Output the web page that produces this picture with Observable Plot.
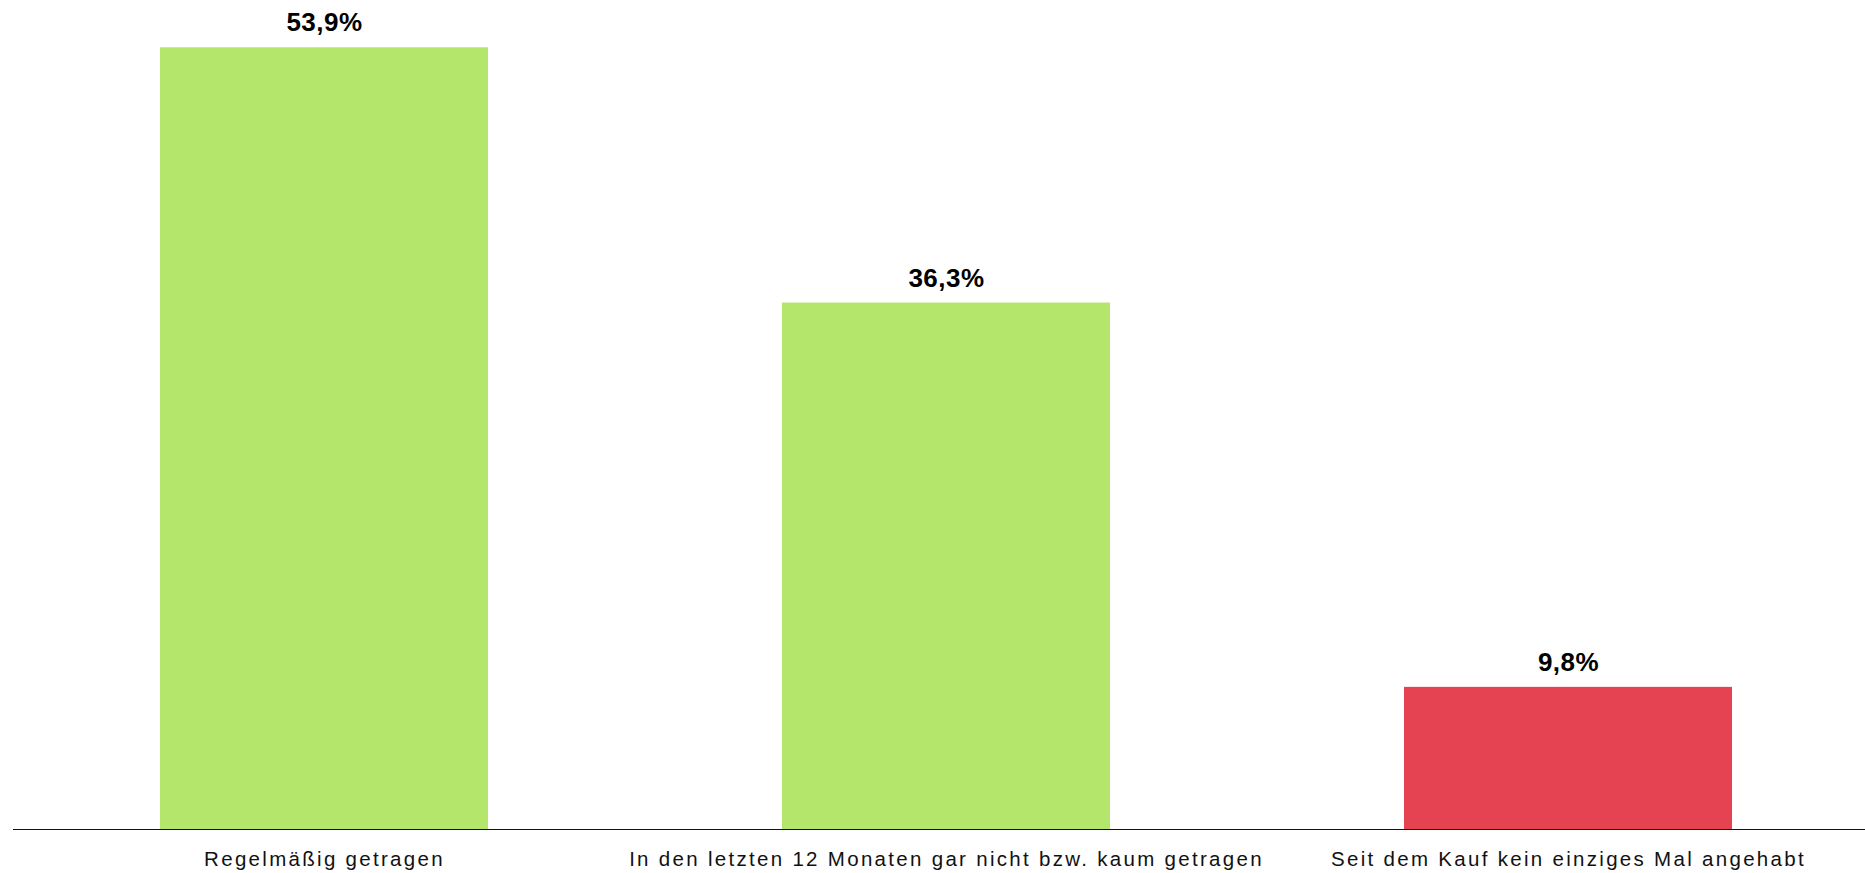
<!DOCTYPE html>
<html>
<head>
<meta charset="utf-8">
<script src="https://cdn.jsdelivr.net/npm/d3@7"></script>
<script src="https://cdn.jsdelivr.net/npm/@observablehq/plot@0.6"></script>
<style>
  html, body { margin: 0; padding: 0; background: #fff; }
  #chart svg { display: block; overflow: visible; }
  #chart g[aria-label="x-axis tick label"] text { letter-spacing: 2.3px; }
  #chart g[aria-label="text"] text { letter-spacing: 0.5px; }
</style>
</head>
<body>
<div id="chart"></div>
<script>
const categories = [
  "Regelmäßig getragen",
  "In den letzten 12 Monaten gar nicht bzw. kaum getragen",
  "Seit dem Kauf kein einziges Mal angehabt"
];
const values = [53.9, 36.3, 9.8];
const barColors = ["#b3e66a", "#b3e66a", "#e54252"];

const data = categories.map((c, i) => ({category: c, value: values[i], color: barColors[i]}));
const fmt = v => v.toFixed(1).replace(".", ",") + "%";

const chart = Plot.plot({
  width: 1865,
  height: 873,
  marginLeft: 13,
  marginRight: 0,
  marginTop: 0,
  marginBottom: 44,
  style: {fontFamily: "'Liberation Sans', Arial, sans-serif", background: "#fff", color: "#000"},
  x: {domain: categories, paddingInner: 0.4728, paddingOuter: 0.2247, align: 0.524, axis: null},
  y: {domain: [0, 57.16], axis: null},
  marks: [
    Plot.barY(data, {x: "category", y: "value", fill: d => d.color}),
    Plot.ruleY([0], {stroke: "#111", strokeWidth: 1.2}),
    Plot.text(data, {
      x: "category", y: "value", text: d => fmt(d.value),
      lineAnchor: "bottom", dy: -16.5, fontSize: 26, fontWeight: "bold", fill: "#000"
    }),
    Plot.axisX({tickSize: 0, tickPadding: 22, fontSize: 20.5, fill: "#111", label: null})
  ]
});
document.getElementById("chart").appendChild(chart);
</script>
</body>
</html>
